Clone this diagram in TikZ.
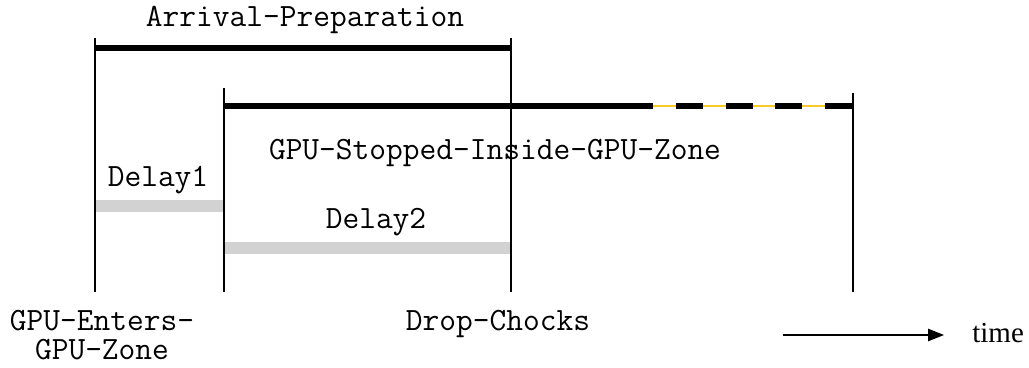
\documentclass[tikz,border=0pt]{standalone}
\usepackage{fontspec}
\setmainfont{Liberation Serif}
\usetikzlibrary{arrows.meta}
\definecolor{barblack}{RGB}{0,0,0}
\definecolor{lightbar}{RGB}{210,210,210}
\definecolor{dashyellow}{RGB}{250,200,40}
\tikzset{
  tick/.style={line width=0.6pt, black},
  thickbar/.style={line width=3pt, barblack},
  graybar/.style={line width=7pt, lightbar},
  lbl/.style={font=\fontsize{18.5}{21}\selectfont\ttfamily, inner sep=0pt},
}
\begin{document}
\begin{tikzpicture}[x=0.02cm,y=-0.02cm]
\useasboundingbox (0,0) rectangle (1029,368);
% coordinates
\coordinate (a1) at (95,38);   \coordinate (a2) at (95,292);
\coordinate (b1) at (224,88);  \coordinate (b2) at (224,292);
\coordinate (c1) at (511,38);  \coordinate (c2) at (511,292);
\coordinate (d1) at (853,93);  \coordinate (d2) at (853,292);
\coordinate (ap1) at (95,48);  \coordinate (ap2) at (511,48);
\coordinate (gs1) at (224,106); \coordinate (gs2) at (653,106); \coordinate (gs3) at (853,106);
\coordinate (gs4) at (676,106);
\coordinate (d11) at (95,206); \coordinate (d12) at (224,206);
\coordinate (d21) at (224,248); \coordinate (d22) at (511,248);
% bars
\draw[graybar] (d11) -- (d12);
\draw[graybar] (d21) -- (d22);
\draw[thickbar] (ap1) -- (ap2);
\draw[thickbar] (gs1) -- (gs2);
\draw[line width=0.8pt, dashyellow] (gs2) -- (gs3);
\draw[thickbar, dash pattern=on 15.3pt off 13.0pt] (gs4) -- (gs3);
% ticks
\draw[tick] (a1) -- (a2);
\draw[tick] (b1) -- (b2);
\draw[tick] (c1) -- (c2);
\draw[tick] (d1) -- (d2);
% labels
\node[lbl] (tap) at (305,20) {Arrival-Preparation};
\node[lbl] (tgs) at (495,153) {GPU-Stopped-Inside-GPU-Zone};
\node[lbl] (td1) at (158,180) {Delay1};
\node[lbl] (td2) at (376,222) {Delay2};
\node[lbl, anchor=base, text depth=0pt] (tge) at (102,331) {GPU-Enters-};
\node[lbl, anchor=base, text height=8pt] (tgz) at (102,359) {GPU-Zone};
\node[lbl, anchor=base] (tdc) at (498,331) {Drop-Chocks};
\coordinate (ar1) at (783,335);
\node[font=\fontsize{16.5}{19}\selectfont, inner sep=0pt, anchor=west] (tt) at (972,333) {time};
\draw[line width=0.7pt, -{Triangle[length=9pt,width=7pt]}] (ar1) -- (944,335) coordinate (ar2);
\end{tikzpicture}
\end{document}
